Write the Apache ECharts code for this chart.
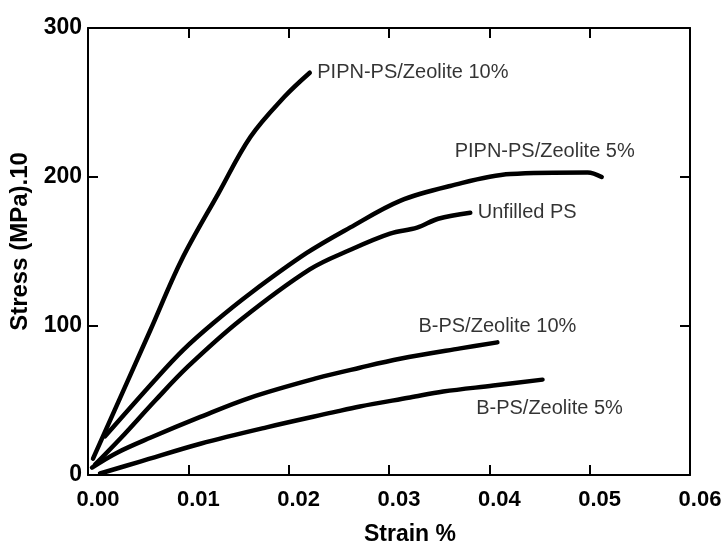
<!DOCTYPE html>
<html>
<head>
<meta charset="utf-8">
<title>Stress - Strain</title>
<script src="https://cdn.jsdelivr.net/npm/echarts@6/dist/echarts.min.js"></script>
<style>
  html, body { margin: 0; padding: 0; background: #fff; }
  #chart { width: 727px; height: 549px; }
</style>
</head>
<body>
<div id="chart"></div>
<script>
// 数据：应变 (strain %) 与 应力 (MPa/10)
const pipn10Strain = [0.0005, 0.0062, 0.0093, 0.0130, 0.0162, 0.0196, 0.0221];
const pipn10Stress = [11, 97, 144, 189, 227, 254, 270];

const pipn5Strain = [0.0017, 0.0067, 0.0095, 0.0125, 0.0162, 0.0218, 0.0261, 0.0311, 0.0361, 0.0421, 0.0498, 0.0512];
const pipn5Stress = [26, 64, 84, 102, 122, 149, 166, 184, 194, 202, 203, 200];

const unfilledStrain = [0.0007, 0.0033, 0.0067, 0.0100, 0.0152, 0.0221, 0.0261, 0.0301, 0.0328, 0.0349, 0.0381];
const unfilledStress = [7, 25, 50, 73, 104, 138, 151, 162, 166, 172, 176];

const bps10Strain = [0.0004, 0.0029, 0.0062, 0.0112, 0.0162, 0.0228, 0.0271, 0.0311, 0.0371, 0.0408];
const bps10Stress = [5, 15, 25, 39, 52, 65, 72, 78, 85, 89];

const bps5Strain = [0.0012, 0.0052, 0.0112, 0.0178, 0.0244, 0.0271, 0.0321, 0.0354, 0.0404, 0.0453];
const bps5Stress = [1, 9, 21, 32, 42, 46, 52, 56, 60, 64];

const seriesNames = ['PIPN-PS/Zeolite 10%', 'PIPN-PS/Zeolite 5%', 'Unfilled PS', 'B-PS/Zeolite 10%', 'B-PS/Zeolite 5%'];

const curves = [
  [pipn10Strain, pipn10Stress],
  [pipn5Strain, pipn5Stress],
  [unfilledStrain, unfilledStress],
  [bps10Strain, bps10Stress],
  [bps5Strain, bps5Stress]
];

// 曲线末端文字的摆放方式
const labelStyles = [
  { position: 'right', distance: 7 },
  { position: 'top', distance: 5, offset: [-57, -10] },
  { position: 'right', distance: 7 },
  { position: 'top', distance: 5 },
  { position: 'bottom', distance: 18, offset: [7, 0] }
];

const FONT = '"Liberation Sans", Arial, Helvetica, sans-serif';

const chart = echarts.init(document.getElementById('chart'));

const lineSeries = curves.map((c, i) => ({
  name: seriesNames[i],
  type: 'line',
  data: c[0].map((x, k) => [x, c[1][k]]),
  smooth: 0.35,
  showSymbol: false,
  lineStyle: { color: '#000', width: 4.5, cap: 'round', join: 'round' },
  silent: true,
  z: 3
}));

// 用透明散点承载曲线名称
const labelSeries = {
  type: 'scatter',
  symbolSize: 1,
  itemStyle: { color: 'rgba(0,0,0,0)' },
  silent: true,
  data: curves.map((c, i) => ({
    value: [c[0][c[0].length - 1], c[1][c[1].length - 1]],
    label: Object.assign({
      show: true,
      formatter: seriesNames[i],
      color: '#000',
      fontFamily: FONT,
      fontSize: 20
    }, labelStyles[i])
  }))
};

const tickFont = { color: '#000', fontFamily: FONT, fontSize: 22, fontWeight: 'bold' };
const frameLine = { show: true, onZero: false, lineStyle: { color: '#000', width: 2 } };
const inTick = { show: true, inside: true, length: 10, lineStyle: { color: '#000', width: 2 } };

const option = {
  animation: false,
  backgroundColor: '#fff',
  grid: { left: 88, right: 37, top: 28, bottom: 74, containLabel: false, outerBoundsMode: 'none' },
  xAxis: [
    {
      type: 'value',
      position: 'bottom',
      min: 0,
      max: 0.06,
      interval: 0.01,
      name: 'Strain %',
      nameLocation: 'middle',
      nameGap: 48,
      nameTextStyle: Object.assign({}, tickFont, { fontSize: 23, padding: [0, 0, 0, 42] }),
      axisLine: frameLine,
      axisTick: inTick,
      axisLabel: Object.assign({
        margin: 14,
        padding: [0, 0, 0, 20],
        formatter: v => v.toFixed(2)
      }, tickFont),
      splitLine: { show: false }
    },
    {
      type: 'value',
      position: 'top',
      min: 0,
      max: 0.06,
      interval: 0.01,
      axisLine: frameLine,
      axisTick: inTick,
      axisLabel: { show: false },
      splitLine: { show: false }
    }
  ],
  yAxis: [
    {
      type: 'value',
      position: 'left',
      min: 0,
      max: 300,
      interval: 100,
      name: 'Stress (MPa).10',
      nameLocation: 'middle',
      nameGap: 48,
      nameTextStyle: Object.assign({}, tickFont, { fontSize: 24, padding: [0, 0, 0, 20] }),
      axisLine: frameLine,
      axisTick: inTick,
      axisLabel: Object.assign({ margin: 6, formatter: v => String(v) }, tickFont, { fontSize: 23 }),
      splitLine: { show: false }
    },
    {
      type: 'value',
      position: 'right',
      min: 0,
      max: 300,
      interval: 100,
      axisLine: frameLine,
      axisTick: inTick,
      axisLabel: { show: false },
      splitLine: { show: false }
    }
  ],
  series: lineSeries.concat([labelSeries])
};

chart.setOption(option);
</script>
</body>
</html>
